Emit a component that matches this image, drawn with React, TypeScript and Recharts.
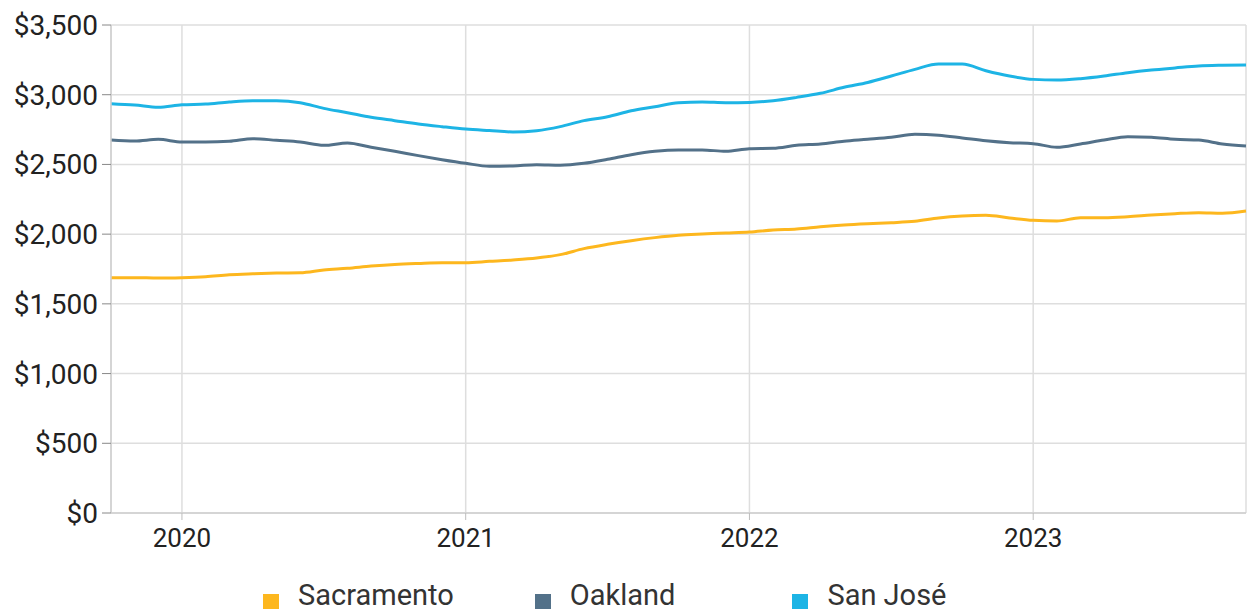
import React from "react";
import { LineChart, Line, XAxis, YAxis, CartesianGrid, Legend } from "recharts";

// Monthly index: 0 = Oct 2019 ... 48 = Oct 2023
const months: number[] = Array.from({ length: 49 }, (_, i) => i);

const sacramento: number[] = [
  1688, 1688, 1685, 1688, 1695, 1709, 1716, 1721, 1723, 1743, 1755, 1771, 1783,
  1790, 1795, 1795, 1805, 1815, 1829, 1853, 1896, 1927, 1953, 1975, 1992, 2001,
  2008, 2015, 2030, 2037, 2053, 2066, 2075, 2082, 2092, 2116, 2130, 2135, 2116,
  2099, 2094, 2118, 2118, 2125, 2137, 2147, 2154, 2150, 2166,
];

const oakland: number[] = [
  2675, 2668, 2680, 2661, 2661, 2666, 2685, 2673, 2661, 2637, 2654, 2623, 2594,
  2563, 2534, 2508, 2487, 2489, 2498, 2494, 2508, 2537, 2570, 2594, 2604, 2604,
  2594, 2613, 2616, 2637, 2647, 2666, 2680, 2695, 2716, 2709, 2690, 2670, 2656,
  2649, 2623, 2647, 2675, 2699, 2695, 2680, 2675, 2647, 2632,
];

const sanJose: number[] = [
  2936, 2926, 2910, 2928, 2933, 2948, 2957, 2957, 2943, 2902, 2871, 2838, 2814,
  2790, 2771, 2754, 2743, 2733, 2742, 2771, 2814, 2842, 2885, 2914, 2943, 2948,
  2943, 2945, 2957, 2981, 3010, 3053, 3088, 3134, 3182, 3220, 3220, 3172, 3134,
  3110, 3105, 3115, 3134, 3158, 3177, 3192, 3206, 3211, 3213,
];

const yTicks: number[] = [0, 500, 1000, 1500, 2000, 2500, 3000, 3500];
const xTicks: number[] = [3, 15, 27, 39];
const xTickLabels: string[] = ["2020", "2021", "2022", "2023"];

const seriesNames = ["Sacramento", "Oakland", "San José"];
const seriesColors = ["#FDB71E", "#537189", "#1DB4E5"];

const data = months.map((m, i) => ({
  m,
  sacramento: sacramento[i],
  oakland: oakland[i],
  sanJose: sanJose[i],
}));

const FONT = "Roboto, 'DejaVu Sans', sans-serif";

const fmtMoney = (v: number) => "$" + v.toLocaleString("en-US");

const LegendContent = () => {
  const margins = [81, 117, 0];
  return (
    <div
      style={{
        display: "flex",
        justifyContent: "flex-start",
        paddingLeft: 263,
        fontFamily: FONT,
        fontSize: 29,
        color: "#333",
        lineHeight: "32px",
        marginTop: -2,
      }}
    >
      {seriesNames.map((n, i) => (
        <div
          key={n}
          style={{ display: "flex", alignItems: "center", marginRight: margins[i] }}
        >
          <span
            style={{
              display: "inline-block",
              width: 16,
              height: 15,
              background: seriesColors[i],
              marginRight: 19,
              marginTop: 12,
            }}
          />
          <span>{n}</span>
        </div>
      ))}
    </div>
  );
};

export default function App() {
  return (
    <div style={{ position: "absolute", left: 0, top: 0, width: 1248, height: 613, overflow: "hidden", background: "#fff" }}>
      <LineChart
        width={1248}
        height={613}
        data={data}
        margin={{ top: 25, right: 2, bottom: 0, left: 0 }}
      >
        <CartesianGrid stroke="#dedede" strokeWidth={1.5} vertical={true} horizontal={true} />
        <XAxis
          dataKey="m"
          type="number"
          domain={[0, 48]}
          ticks={xTicks}
          tickFormatter={(v: number) => xTickLabels[xTicks.indexOf(v)] ?? ""}
          height={68}
          tickSize={7}
          tickMargin={9}
          axisLine={{ stroke: "#cfcfcf", strokeWidth: 1.5 }}
          tickLine={{ stroke: "#bdbdbd" }}
          tick={{ fill: "#222", fontSize: 26, fontFamily: FONT }}
        />
        <YAxis
          domain={[0, 3500]}
          ticks={yTicks}
          tickFormatter={fmtMoney}
          width={111}
          tickSize={9}
          tickMargin={4}
          axisLine={{ stroke: "#cfcfcf", strokeWidth: 1.5 }}
          tickLine={{ stroke: "#888" }}
          tick={{ fill: "#222", fontSize: 28, fontFamily: FONT }}
        />
        <Legend verticalAlign="bottom" height={32} content={<LegendContent />} />
        <Line
          dataKey="sacramento"
          name="Sacramento"
          stroke={seriesColors[0]}
          strokeWidth={3}
          dot={false}
          type="monotone"
          isAnimationActive={false}
        />
        <Line
          dataKey="oakland"
          name="Oakland"
          stroke={seriesColors[1]}
          strokeWidth={3}
          dot={false}
          type="monotone"
          isAnimationActive={false}
        />
        <Line
          dataKey="sanJose"
          name="San José"
          stroke={seriesColors[2]}
          strokeWidth={3}
          dot={false}
          type="monotone"
          isAnimationActive={false}
        />
      </LineChart>
    </div>
  );
}
